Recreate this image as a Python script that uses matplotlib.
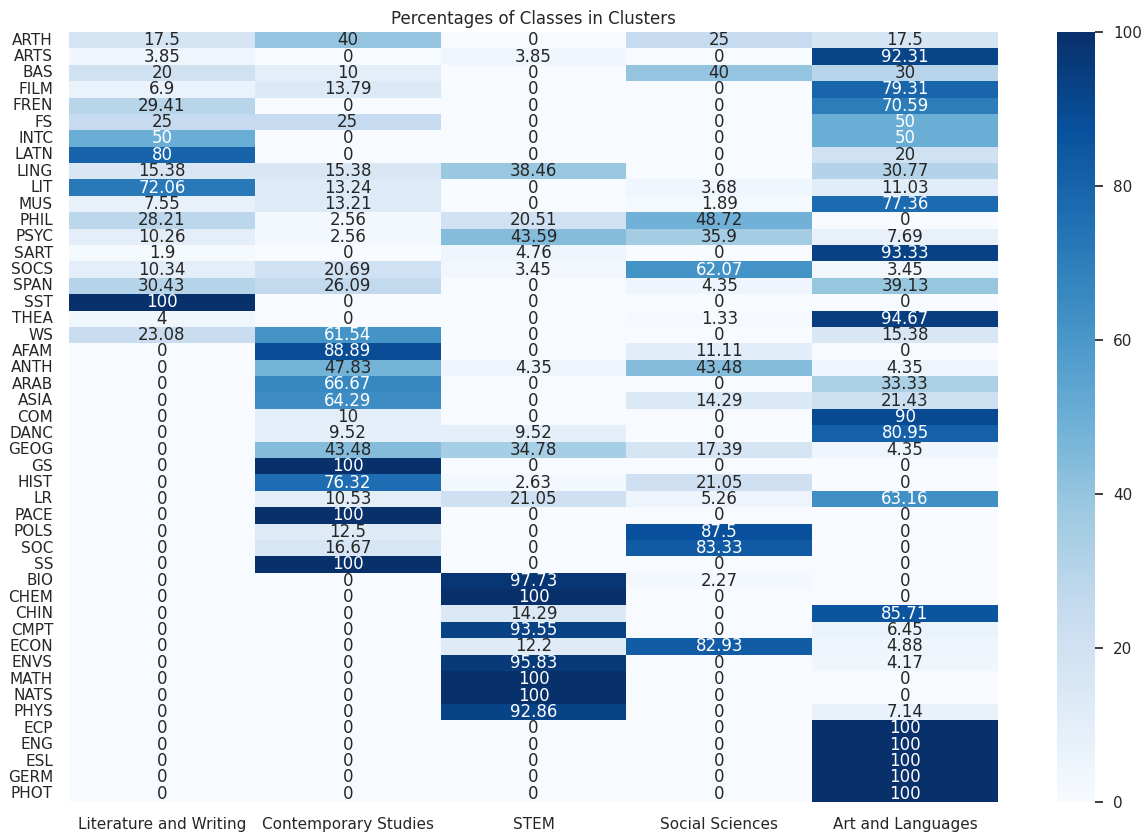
"Heatmap of class percentages per cluster."

import numpy as np
import pandas as pd
import seaborn as sns
from matplotlib import pyplot as plt

clusters = ["Literature and Writing", "Contemporary Studies", "STEM",
            "Social Sciences", "Art and Languages"]

subjects = ["ARTH", "ARTS", "BAS", "FILM", "FREN", "FS", "INTC", "LATN", "LING",
            "LIT", "MUS", "PHIL", "PSYC", "SART", "SOCS", "SPAN", "SST", "THEA",
            "WS", "AFAM", "ANTH", "ARAB", "ASIA", "COM", "DANC", "GEOG", "GS",
            "HIST", "LR", "PACE", "POLS", "SOC", "SS", "BIO", "CHEM", "CHIN",
            "CMPT", "ECON", "ENVS", "MATH", "NATS", "PHYS", "ECP", "ENG", "ESL",
            "GERM", "PHOT"]

lit_writing = [17.5, 3.85, 20, 6.9, 29.41, 25, 50, 80, 15.38, 72.06, 7.55, 28.21,
               10.26, 1.9, 10.34, 30.43, 100, 4, 23.08, 0, 0, 0, 0, 0, 0, 0, 0,
               0, 0, 0, 0, 0, 0, 0, 0, 0, 0, 0, 0, 0, 0, 0, 0, 0, 0, 0, 0]
contemporary = [40, 0, 10, 13.79, 0, 25, 0, 0, 15.38, 13.24, 13.21, 2.56, 2.56,
                0, 20.69, 26.09, 0, 0, 61.54, 88.89, 47.83, 66.67, 64.29, 10,
                9.52, 43.48, 100, 76.32, 10.53, 100, 12.5, 16.67, 100, 0, 0, 0,
                0, 0, 0, 0, 0, 0, 0, 0, 0, 0, 0]
stem = [0, 3.85, 0, 0, 0, 0, 0, 0, 38.46, 0, 0, 20.51, 43.59, 4.76, 3.45, 0, 0,
        0, 0, 0, 4.35, 0, 0, 0, 9.52, 34.78, 0, 2.63, 21.05, 0, 0, 0, 0, 97.73,
        100, 14.29, 93.55, 12.2, 95.83, 100, 100, 92.86, 0, 0, 0, 0, 0]
social = [25, 0, 40, 0, 0, 0, 0, 0, 0, 3.68, 1.89, 48.72, 35.9, 0, 62.07, 4.35,
          0, 1.33, 0, 11.11, 43.48, 0, 14.29, 0, 0, 17.39, 0, 21.05, 5.26, 0,
          87.5, 83.33, 0, 2.27, 0, 0, 0, 82.93, 0, 0, 0, 0, 0, 0, 0, 0, 0]
art_lang = [17.5, 92.31, 30, 79.31, 70.59, 50, 50, 20, 30.77, 11.03, 77.36, 0,
            7.69, 93.33, 3.45, 39.13, 0, 94.67, 15.38, 0, 4.35, 33.33, 21.43, 90,
            80.95, 4.35, 0, 0, 63.16, 0, 0, 0, 0, 0, 0, 85.71, 6.45, 4.88, 4.17,
            0, 0, 7.14, 100, 100, 100, 100, 100]

df = pd.DataFrame({c: v for c, v in zip(clusters, [lit_writing, contemporary, stem,
                                                   social, art_lang])},
                  index=subjects)

sns.set_theme(style="white")
fig = plt.figure(figsize=(11.47, 8.4), dpi=100)
ax = fig.add_axes([0.0602, 0.0452, 0.8098, 0.9167])
cax = fig.add_axes([0.9215, 0.0452, 0.0331, 0.9167])
sns.heatmap(df, annot=True, fmt="g", cmap="Blues", vmin=0, vmax=100,
            ax=ax, cbar_ax=cax, annot_kws={"fontsize": 12})

# older seaborn switched annotation colour a bit later than the current one
for txt, val in zip(ax.texts, df.values.ravel()):
    txt.set_color("white" if val >= 49 else ".15")

ax.set_title("Percentages of Classes in Clusters", fontsize=12)
ax.tick_params(axis="x", labelsize=11, length=0, pad=11)
ax.tick_params(axis="y", labelsize=11, length=0, pad=11.5, rotation=0)
cax.yaxis.set_ticks_position("right")
cax.tick_params(labelsize=11, length=6, width=1.25, color=".15", pad=7,
                right=True)
plt.savefig("out.png", dpi=100)
